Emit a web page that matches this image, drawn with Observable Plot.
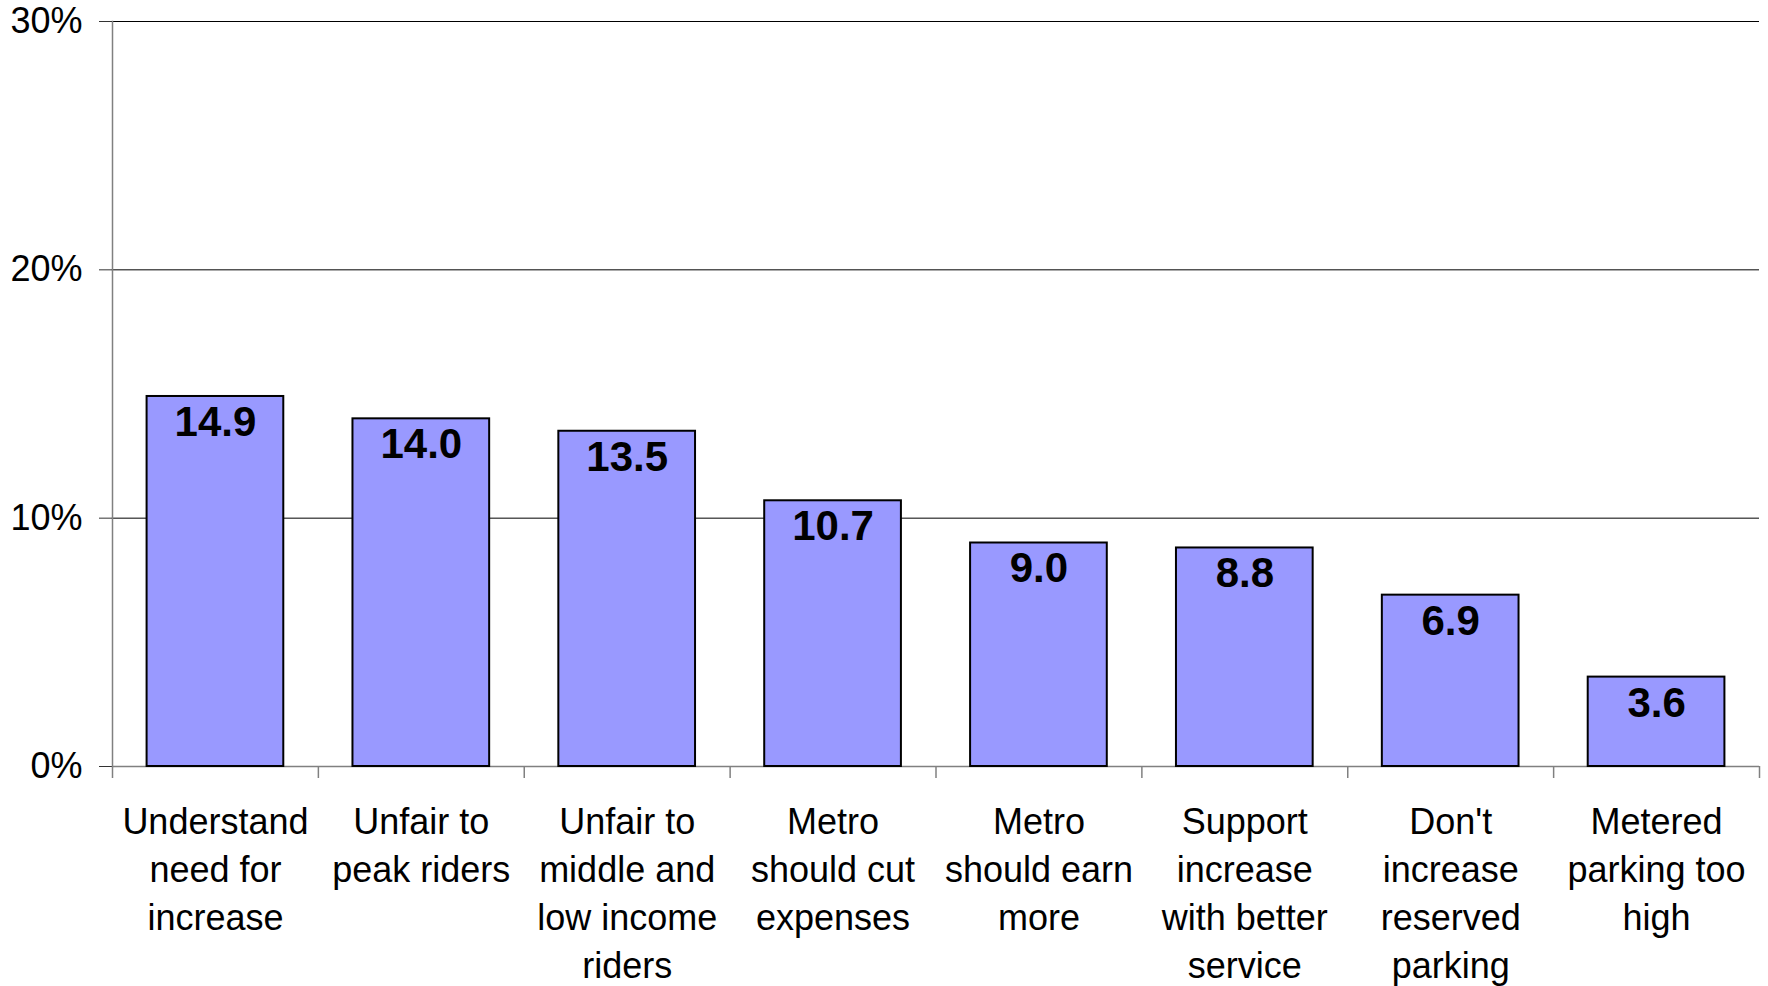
<!DOCTYPE html>
<html>
<head>
<meta charset="utf-8">
<script src="https://cdn.jsdelivr.net/npm/d3@7"></script>
<script src="https://cdn.jsdelivr.net/npm/@observablehq/plot@0.6"></script>
<style>
  html, body { margin: 0; padding: 0; background: #fff; }
  #chart svg { display: block; }
</style>
</head>
<body>
<div id="chart"></div>
<script>
const categories = [
  "Understand\nneed for\nincrease",
  "Unfair to\npeak riders",
  "Unfair to\nmiddle and\nlow income\nriders",
  "Metro\nshould cut\nexpenses",
  "Metro\nshould earn\nmore",
  "Support\nincrease\nwith better\nservice",
  "Don't\nincrease\nreserved\nparking",
  "Metered\nparking too\nhigh"
];
const values = [14.9, 14.0, 13.5, 10.7, 9.0, 8.8, 6.9, 3.6];
const yTicks = [0, 10, 20, 30];
const gridValues = [10, 20, 30];

const data = categories.map((c, i) => ({category: c, value: values[i]}));

const W = 1768, H = 986, ML = 112, MR = 9, MT = 21, MB = 220;
const step = (W - ML - MR) / categories.length;

const chart = Plot.plot({
  width: W,
  height: H,
  marginLeft: ML,
  marginRight: MR,
  marginTop: MT,
  marginBottom: MB,
  style: {fontFamily: "'Liberation Sans', Arial, sans-serif", background: "#fff", color: "#000", overflow: "visible"},
  x: {domain: categories, paddingInner: 0.336, paddingOuter: 0.168, round: false, axis: null, label: null},
  y: {domain: [0, 30], axis: null, label: null},
  marks: [
    Plot.ruleY(gridValues, {stroke: "#000", strokeWidth: 1}),
    Plot.ruleY([0], {stroke: "#808080", strokeWidth: 1.5}),
    Plot.frame({anchor: "left", stroke: "#808080", strokeWidth: 1.5}),
    Plot.barY(data, {x: "category", y: "value", fill: "#9999ff", stroke: "#000", strokeWidth: 2}),
    Plot.text(data, {x: "category", y: "value", text: d => d.value.toFixed(1), dy: 26, fontSize: 42, fontWeight: "bold", fill: "#000"}),
    Plot.axisY({ticks: yTicks, tickSize: 13, tickPadding: 17, tickFormat: d => d + "%", fontSize: 36, stroke: "#333", label: null}),
    Plot.axisX({tickSize: 12, tickFormat: () => "", dx: -step / 2, stroke: "#808080", strokeWidth: 1.5, label: null}),
    Plot.axisX({ticks: [categories[categories.length - 1]], tickSize: 12, tickFormat: () => "", dx: step / 2, stroke: "#808080", strokeWidth: 1.5, label: null}),
    Plot.text(data, {x: "category", text: "category", frameAnchor: "bottom", lineAnchor: "top", dy: 33, fontSize: 36, lineHeight: 1.333, fill: "#000"})
  ]
});
document.getElementById("chart").appendChild(chart);
</script>
</body>
</html>
